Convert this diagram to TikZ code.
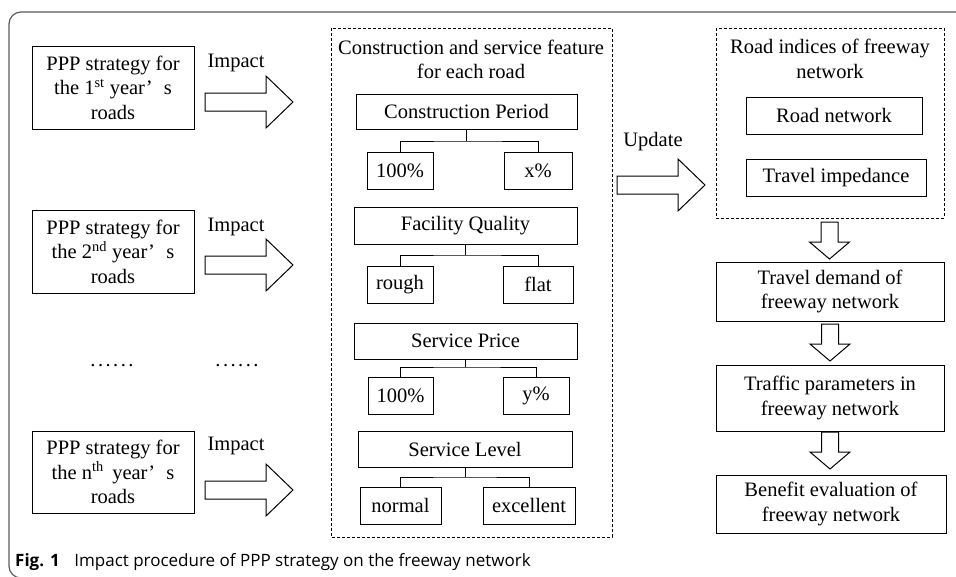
\documentclass[tikz,border=0pt]{standalone}
\usepackage{fontspec}
\setmainfont{Liberation Serif}
\newfontfamily\capfont{Open Sans}
\newfontfamily\dotfont[LetterSpace=12]{Liberation Serif}
\usetikzlibrary{calc}
\definecolor{framec}{HTML}{5A5A5A}
\tikzset{
  txt/.style={font=\fontsize{20.5}{24.5}\selectfont, inner sep=0pt, align=center},
  box/.style={draw, line width=1pt, txt},
  dbox/.style={draw, line width=1pt, dash pattern=on 3pt off 2pt},
  conn/.style={draw, line width=1pt},
  rarr/.pic={\draw[line width=1pt, fill=white, line join=miter]
     (0,-9) -- (61,-9) -- (61,-26) -- (88,0) -- (61,26) -- (61,9) -- (0,9) -- cycle;},
  darr/.pic={\draw[line width=1pt, fill=white, line join=miter]
     (-8.5,0) -- (8.5,0) -- (8.5,20) -- (20,20) -- (0,37) -- (-20,20) -- (-8.5,20) -- (-8.5,0) -- cycle;}
}
\newcommand{\yrs}{year’\hspace{0.55em}s}
\begin{document}
\begin{tikzpicture}[x=1pt,y=-1pt]
\useasboundingbox (0,0) rectangle (956,576);
\clip (0,0) rectangle (956,576);
% outer frame
\draw[framec, line width=1.2pt, rounded corners=12pt] (960,12) -- (9,12) -- (9,578) -- (60,578);

% left boxes
\node[box, minimum width=162pt, minimum height=83pt] (b1) at (113,87.5)
  {PPP strategy for\\the 1\textsuperscript{st} \yrs\\roads};
\node[box, minimum width=162pt, minimum height=83pt] (b2) at (113,251.5)
  {PPP strategy for\\the 2\textsuperscript{nd} \yrs\\roads};
\node[box, minimum width=162pt, minimum height=82pt] (b3) at (113,472)
  {PPP strategy for\\the n\textsuperscript{th}\, \yrs\\roads};
\node[txt] (i1) at (236,63) {Impact};
\node[txt] (i2) at (236,227) {Impact};
\node[txt] (i3) at (236,446) {Impact};
\pic at (205,102) {rarr};
\pic at (205,265) {rarr};
\pic at (205,490) {rarr};
\node[txt, font=\fontsize{20.5}{24.5}\dotfont] (d1) at (112,366) {......};
\node[txt, font=\fontsize{20.5}{24.5}\dotfont] (d2) at (237,366) {......};

% middle dashed group
\draw[dbox] (331,28) rectangle (612,537);
\node[txt] (mt) at (471,59.5) {Construction and service feature\\for each road};
\node[box, minimum width=221pt, minimum height=35pt] (cp) at (466.5,111.5) {Construction Period};
\node[box, minimum width=66pt, minimum height=37pt] (c1a) at (400,170.5) {100\%};
\node[box, minimum width=68pt, minimum height=37pt] (c1b) at (538,170.5) {x\%};
\coordinate (j1) at (466.5,141);
\draw[conn] (cp.south) -- (j1);
\draw[conn] (c1a.north) |- (j1) -| (c1b.north);

\node[box, minimum width=223pt, minimum height=37pt] (fq) at (465.5,225.5) {Facility Quality};
\node[box, minimum width=66pt, minimum height=37pt] (c2a) at (400,284.5) {rough};
\node[box, minimum width=70pt, minimum height=37pt] (c2b) at (538,284.5) {flat};
\coordinate (j2) at (465.5,255);
\draw[conn] (fq.south) -- (j2);
\draw[conn] (c2a.north) |- (j2) -| (c2b.north);

\node[box, minimum width=223pt, minimum height=36pt] (sp) at (465.5,341) {Service Price};
\node[box, minimum width=65pt, minimum height=37pt] (c3a) at (400.5,395.5) {100\%};
\node[box, minimum width=66pt, minimum height=37pt] (c3b) at (536,395.5) {y\%};
\coordinate (j3) at (465.5,367);
\draw[conn] (sp.south) -- (j3);
\draw[conn] (c3a.north) |- (j3) -| (c3b.north);

\node[box, minimum width=214pt, minimum height=36pt] (sl) at (465,449) {Service Level};
\node[box, minimum width=81pt, minimum height=37pt] (c4a) at (400.5,505.5) {normal};
\node[box, minimum width=92pt, minimum height=37pt] (c4b) at (529,505.5) {excellent};
\coordinate (j4) at (465,477);
\draw[conn] (sl.south) -- (j4);
\draw[conn] (c4a.north) |- (j4) -| (c4b.north);

% update arrow
\node[txt] (up) at (653,142) {Update};
\pic at (617,185) {rarr};

% right column
\draw[dbox] (716,28) rectangle (944,218);
\node[txt] (rt) at (830,59) {Road indices of freeway\\network};
\node[box, minimum width=176pt, minimum height=37pt] (rn) at (834,115.5) {Road network};
\node[box, minimum width=180pt, minimum height=37pt] (ti) at (836,177.5) {Travel impedance};
\node[box, minimum width=228pt, minimum height=59pt] (td) at (830,291.5) {Travel demand of\\freeway network};
\node[box, minimum width=228pt, minimum height=66pt] (tp) at (830,398) {Traffic parameters in\\freeway network};
\node[box, minimum width=230pt, minimum height=58pt] (be) at (831,504) {Benefit evaluation of\\freeway network};
\pic at (829.5,222) {darr};
\pic at (830,324) {darr};
\pic at (830,432) {darr};

% caption
\node[anchor=base west, inner sep=0pt, font=\capfont\fontsize{17}{20}\selectfont] (cap) at (15,566)
  {\textbf{Fig. 1}\hspace{0.6em} Impact procedure of PPP strategy on the freeway network};
\end{tikzpicture}
\end{document}
